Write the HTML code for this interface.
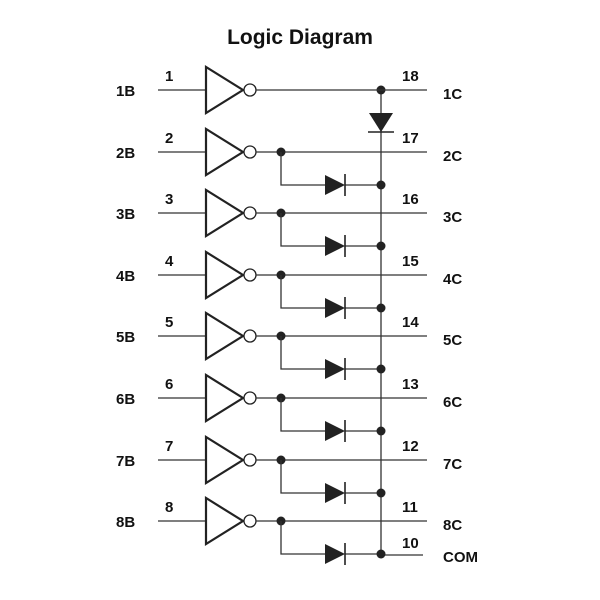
<!DOCTYPE html>
<html><head><meta charset="utf-8"><style>
html,body{margin:0;padding:0;background:#fff;}
svg{display:block;}
text{font-family:"Liberation Sans",Arial,sans-serif;font-weight:bold;fill:#111;}
</style></head><body>
<svg width="600" height="600" viewBox="0 0 600 600" xmlns="http://www.w3.org/2000/svg">
<defs>
<g id="gate">
<line x1="158" y1="0" x2="205" y2="0" stroke="#333" stroke-width="1.3"/>
<polygon points="206,-23 206,23 243,0" fill="#fff" stroke="#222" stroke-width="2.2" stroke-linejoin="miter"/>
<circle cx="250" cy="0" r="6" fill="#fff" stroke="#222" stroke-width="1.3"/>
<line x1="256" y1="0" x2="427" y2="0" stroke="#333" stroke-width="1.3"/>
</g>
<g id="br">
<circle cx="281" cy="0" r="4.5" fill="#222"/>
<polyline points="281,0 281,33 325,33" fill="none" stroke="#333" stroke-width="1.3"/>
<line x1="345" y1="33" x2="381" y2="33" stroke="#333" stroke-width="1.3"/>
<polygon points="325,23 325,43 345,33" fill="#222"/>
<line x1="345" y1="22" x2="345" y2="44" stroke="#222" stroke-width="1.6"/>
<circle cx="381" cy="33" r="4.5" fill="#222"/>
</g>
</defs>
<text x="300" y="44" font-size="21" text-anchor="middle">Logic Diagram</text>
<!-- bus -->
<line x1="381" y1="90" x2="381" y2="555" stroke="#333" stroke-width="1.3"/>
<circle cx="381" cy="90" r="4.5" fill="#222"/>
<polygon points="369,113 393,113 381,132" fill="#222"/>
<line x1="368" y1="132" x2="394" y2="132" stroke="#222" stroke-width="1.6"/>
<line x1="381" y1="555" x2="423" y2="555" stroke="#333" stroke-width="1.3"/>

<use href="#gate" transform="translate(0,90)"/>
<use href="#gate" transform="translate(0,152)"/>
<use href="#gate" transform="translate(0,213)"/>
<use href="#gate" transform="translate(0,275)"/>
<use href="#gate" transform="translate(0,336)"/>
<use href="#gate" transform="translate(0,398)"/>
<use href="#gate" transform="translate(0,460)"/>
<use href="#gate" transform="translate(0,521)"/>
<use href="#br" transform="translate(0,152)"/>
<use href="#br" transform="translate(0,213)"/>
<use href="#br" transform="translate(0,275)"/>
<use href="#br" transform="translate(0,336)"/>
<use href="#br" transform="translate(0,398)"/>
<use href="#br" transform="translate(0,460)"/>
<use href="#br" transform="translate(0,521)"/>

<g font-size="15">
<text x="116" y="96">1B</text><text x="116" y="158">2B</text><text x="116" y="219">3B</text><text x="116" y="281">4B</text>
<text x="116" y="342">5B</text><text x="116" y="404">6B</text><text x="116" y="466">7B</text><text x="116" y="527">8B</text>
<text x="165" y="81">1</text><text x="165" y="143">2</text><text x="165" y="204">3</text><text x="165" y="266">4</text>
<text x="165" y="327">5</text><text x="165" y="389">6</text><text x="165" y="451">7</text><text x="165" y="512">8</text>
<text x="402" y="81">18</text><text x="402" y="143">17</text><text x="402" y="204">16</text><text x="402" y="266">15</text>
<text x="402" y="327">14</text><text x="402" y="389">13</text><text x="402" y="451">12</text><text x="402" y="512">11</text>
<text x="402" y="548">10</text>
<text x="443" y="99">1C</text><text x="443" y="161">2C</text><text x="443" y="222">3C</text><text x="443" y="284">4C</text>
<text x="443" y="345">5C</text><text x="443" y="407">6C</text><text x="443" y="469">7C</text><text x="443" y="530">8C</text>
<text x="443" y="562">COM</text>
</g>
</svg>
</body></html>
